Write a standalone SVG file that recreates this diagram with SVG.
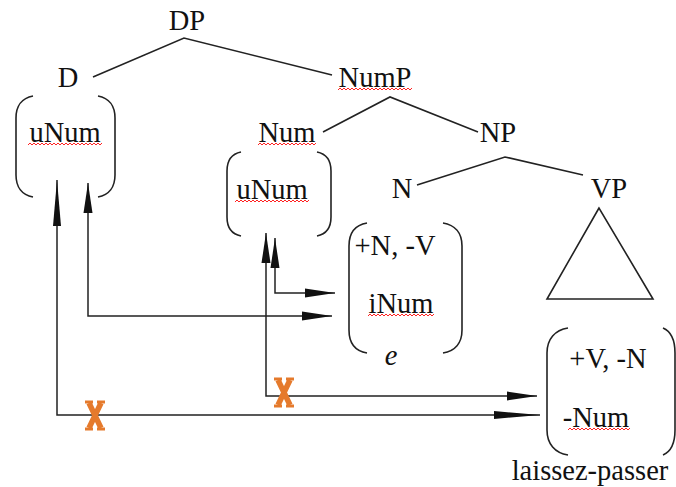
<svg xmlns="http://www.w3.org/2000/svg" width="676" height="487" viewBox="0 0 676 487" font-family="'Liberation Serif', 'DejaVu Serif', Times, serif">
<style>
text{font-family:'Liberation Serif','DejaVu Serif','Times New Roman',Times,serif;font-size:28.5px;fill:#111;text-anchor:middle}
.it{font-style:italic}
.br{fill:none;stroke:#222;stroke-width:1.6}
.edge{fill:none;stroke:#222;stroke-width:1.6}
.arr{fill:none;stroke:#222;stroke-width:1.5}
.sq{fill:none;stroke:#f22;stroke-width:1}
.x{fill:none;stroke:#e57a2c;stroke-width:5.5;stroke-linecap:butt}
.xf{fill:none;stroke:#e57a2c;stroke-width:3}
</style>
<defs>
<marker id="hL" markerUnits="userSpaceOnUse" viewBox="-46 -5 47 10" refX="0" refY="0" markerWidth="47" markerHeight="10" orient="auto-start-reverse">
<path d="M0,0 L-46,-4 L-46,4 Z" fill="#111"/>
</marker>
<marker id="hS" markerUnits="userSpaceOnUse" viewBox="-31 -5 32 10" refX="0" refY="0" markerWidth="32" markerHeight="10" orient="auto-start-reverse">
<path d="M0,0 L-30,-4.5 L-30,4.5 Z" fill="#111"/>
</marker>
</defs>
<rect width="676" height="487" fill="#fff"/>

<g id="edges">
<path class="edge" d="M93,77 L184,38 L332,75"/>
<path class="edge" d="M323,132 L390,97 L478,132"/>
<path class="edge" d="M417,185 L505,157 L583,175"/>
</g>

<g id="DP"><text x="187" y="30">DP</text></g>
<g id="D"><text x="68" y="87">D</text></g>
<g id="NumP"><text x="375" y="87">NumP</text>
<path class="sq" d="M338,90 l2,-2 l2,2 l2,-2 l2,2 l2,-2 l2,2 l2,-2 l2,2 l2,-2 l2,2 l2,-2 l2,2 l2,-2 l2,2 l2,-2 l2,2 l2,-2 l2,2 l2,-2 l2,2 l2,-2 l2,2 l2,-2 l2,2 l2,-2 l2,2 l2,-2 l2,2 l2,-2 l2,2 l2,-2 l2,2 l2,-2 l2,2 l2,-2 l2,2 l2,-2"/></g>
<g id="Num"><text x="287" y="142">Num</text>
<path class="sq" d="M258,145 l2,-2 l2,2 l2,-2 l2,2 l2,-2 l2,2 l2,-2 l2,2 l2,-2 l2,2 l2,-2 l2,2 l2,-2 l2,2 l2,-2 l2,2 l2,-2 l2,2 l2,-2 l2,2 l2,-2 l2,2 l2,-2 l2,2 l2,-2 l2,2 l2,-2 l2,2 l2,-2"/></g>
<g id="NP"><text x="498" y="142">NP</text></g>
<g id="N"><text x="402" y="198">N</text></g>
<g id="VP"><text x="609" y="198">VP</text>
<path class="edge" d="M599,208 L547,299 L653,299 Z"/></g>

<g id="D-features">
<path class="br" d="M33,96 C22,98 16,106 16,118 V175 C16,187 22,195 33,197"/>
<path class="br" d="M98,96 C109,98 115,106 115,118 V175 C115,187 109,195 98,197"/>
<text x="65" y="142">uNum</text>
<path class="sq" d="M28,145 l2,-2 l2,2 l2,-2 l2,2 l2,-2 l2,2 l2,-2 l2,2 l2,-2 l2,2 l2,-2 l2,2 l2,-2 l2,2 l2,-2 l2,2 l2,-2 l2,2 l2,-2 l2,2 l2,-2 l2,2 l2,-2 l2,2 l2,-2 l2,2 l2,-2 l2,2 l2,-2 l2,2 l2,-2 l2,2 l2,-2 l2,2 l2,-2 l2,2 l2,-2"/>
</g>

<g id="Num-features">
<path class="br" d="M241,152 C231,154 227,161 227,171 V217 C227,227 231,234 241,236"/>
<path class="br" d="M317,152 C327,154 331,161 331,171 V217 C331,227 327,234 317,236"/>
<text x="272" y="199">uNum</text>
<path class="sq" d="M235,202 l2,-2 l2,2 l2,-2 l2,2 l2,-2 l2,2 l2,-2 l2,2 l2,-2 l2,2 l2,-2 l2,2 l2,-2 l2,2 l2,-2 l2,2 l2,-2 l2,2 l2,-2 l2,2 l2,-2 l2,2 l2,-2 l2,2 l2,-2 l2,2 l2,-2 l2,2 l2,-2 l2,2 l2,-2 l2,2 l2,-2 l2,2 l2,-2 l2,2 l2,-2"/>
</g>

<g id="N-features">
<path class="br" d="M367,223 C355,225 349,233 349,246 V330 C349,343 355,351 367,353"/>
<path class="br" d="M443,223 C455,225 462,233 462,246 V330 C462,343 455,351 443,353"/>
<text x="395" y="255">+N, -V</text>
<text x="401" y="313">iNum</text>
<path class="sq" d="M368,316 l2,-2 l2,2 l2,-2 l2,2 l2,-2 l2,2 l2,-2 l2,2 l2,-2 l2,2 l2,-2 l2,2 l2,-2 l2,2 l2,-2 l2,2 l2,-2 l2,2 l2,-2 l2,2 l2,-2 l2,2 l2,-2 l2,2 l2,-2 l2,2 l2,-2 l2,2 l2,-2 l2,2 l2,-2 l2,2 l2,-2"/>
<text class="it" x="391" y="365">e</text>
</g>

<g id="VP-features">
<path class="br" d="M568,328 C555,330 547,339 547,353 V430 C547,444 555,453 568,455"/>
<path class="br" d="M663,328 C670,331 675,339 675,353 V430 C675,444 670,452 663,455"/>
<text x="608" y="368">+V, -N</text>
<text x="596" y="427">-Num</text>
<path class="sq" d="M568,430 l2,-2 l2,2 l2,-2 l2,2 l2,-2 l2,2 l2,-2 l2,2 l2,-2 l2,2 l2,-2 l2,2 l2,-2 l2,2 l2,-2 l2,2 l2,-2 l2,2 l2,-2 l2,2 l2,-2 l2,2 l2,-2 l2,2 l2,-2 l2,2 l2,-2 l2,2 l2,-2 l2,2 l2,-2"/>
<text x="590" y="480">laissez-passer</text>
</g>

<g id="connectors">
<path class="arr" d="M57,180 V415 H540" marker-start="url(#hL)" marker-end="url(#hL)"/>
<path class="arr" d="M88,183 V316 H332" marker-start="url(#hS)" marker-end="url(#hS)"/>
<path class="arr" d="M266,233 V396 H537" marker-start="url(#hS)" marker-end="url(#hS)"/>
<path class="arr" d="M275,238 V293 H335" marker-start="url(#hS)" marker-end="url(#hS)"/>
</g>

<g id="blocks">
<g id="x1">
<path class="x" d="M89,403 L101,428 M101,403 L89,428"/>
<path class="xf" d="M85,402 H93 M97,402 H105 M85,429 H93 M97,429 H105"/>
</g>
<g id="x2">
<path class="x" d="M278,380 L290,405 M290,380 L278,405"/>
<path class="xf" d="M274,379 H282 M286,379 H294 M274,406 H282 M286,406 H294"/>
</g>
</g>
</svg>
